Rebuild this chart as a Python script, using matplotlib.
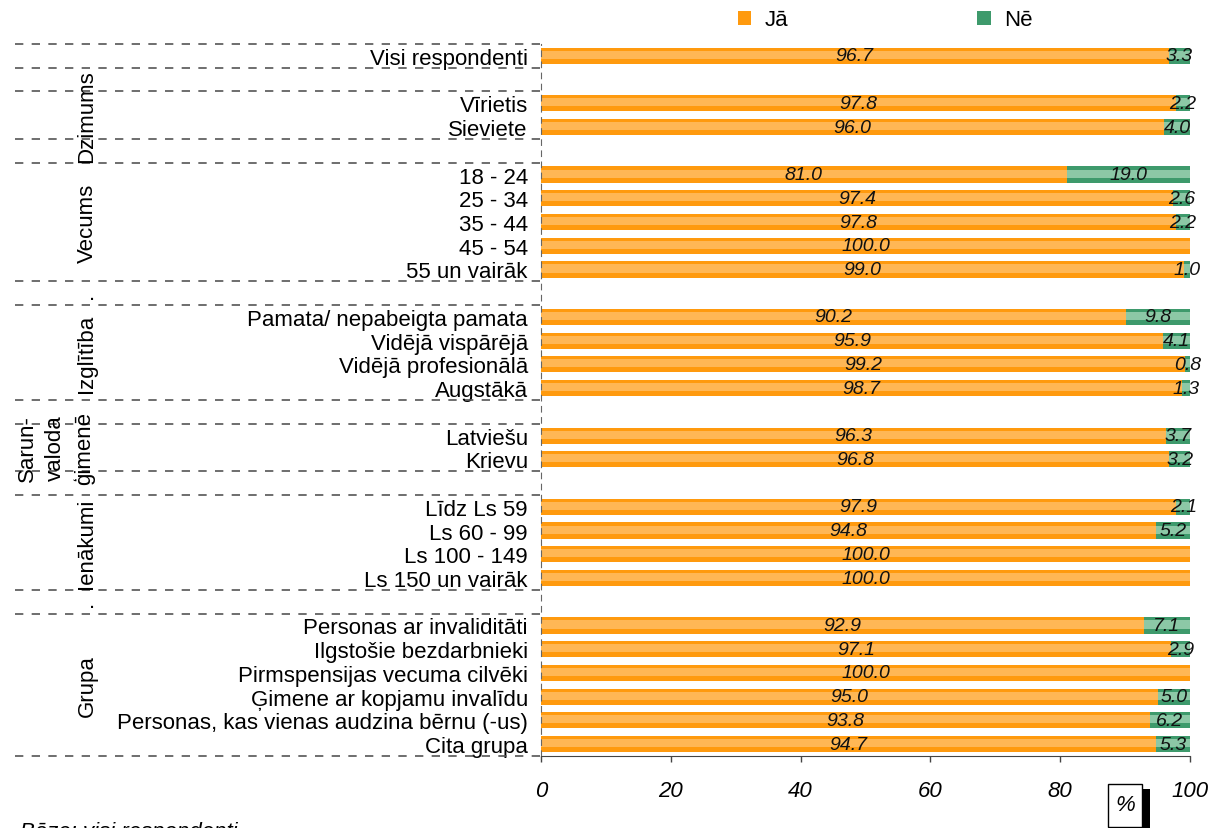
import matplotlib
matplotlib.use("Agg")
import matplotlib.pyplot as plt
from matplotlib.patches import Patch, Rectangle
from matplotlib.transforms import blended_transform_factory

plt.rcParams['font.family'] = ['Liberation Sans', 'DejaVu Sans']

# data
labels = ["Visi respondenti",
          "Vīrietis", "Sieviete",
          "18 - 24", "25 - 34", "35 - 44", "45 - 54", "55 un vairāk",
          "Pamata/ nepabeigta pamata", "Vidējā vispārējā", "Vidējā profesionālā", "Augstākā",
          "Latviešu", "Krievu",
          "Līdz Ls 59", "Ls 60 - 99", "Ls 100 - 149", "Ls 150 un vairāk",
          "Personas ar invaliditāti", "Ilgstošie bezdarbnieki", "Pirmspensijas vecuma cilvēki",
          "Ģimene ar kopjamu invalīdu", "Personas, kas vienas audzina bērnu (-us)", "Cita grupa"]
ja = [96.7, 97.8, 96.0, 81.0, 97.4, 97.8, 100.0, 99.0, 90.2, 95.9, 99.2, 98.7,
      96.3, 96.8, 97.9, 94.8, 100.0, 100.0, 92.9, 97.1, 100.0, 95.0, 93.8, 94.7]
ne = [3.3, 2.2, 4.0, 19.0, 2.6, 2.2, 0.0, 1.0, 9.8, 4.1, 0.8, 1.3,
      3.7, 3.2, 2.1, 5.2, 0.0, 0.0, 7.1, 2.9, 0.0, 5.0, 6.2, 5.3]
group_names = ["", "Dzimums", "Vecums", "Izglītība", "Sarun-\nvaloda\nģimenē", "Ienākumi", "Grupa"]
group_sizes = [1, 2, 5, 4, 2, 4, 6]

ORANGE = '#FF9A0E'
ORANGE_L = '#FFB755'
GREEN = '#3E9A6C'
GREEN_L = '#8CC8A6'

# row positions: one blank slot between groups
pos = []
group_span = []
slot = 0
for n in group_sizes:
    group_span.append((slot, slot + n - 1))
    pos += list(range(slot, slot + n))
    slot += n + 1
last = slot - 2

W, H = 1208, 829
fig = plt.figure(figsize=(W / 100, H / 100), dpi=100)
ax = fig.add_axes([541 / W, 1 - 757 / H, (1190 - 541) / W, (757 - 45) / H])

bh = 0.68
ax.barh(pos, ja, height=bh, color=ORANGE, linewidth=0)
ax.barh([p - 0.04 for p in pos], ja, height=bh * 0.5, color=ORANGE_L, linewidth=0)
ax.barh(pos, ne, left=ja, height=bh, color=GREEN, linewidth=0)
ax.barh([p - 0.04 for p in pos], ne, left=ja, height=bh * 0.5, color=GREEN_L, linewidth=0)

for p, a, b in zip(pos, ja, ne):
    ax.text(a / 2, p, f"{a:.1f}", ha='center', va='center', fontsize=14, style='italic', color='#111111')
    if b > 0:
        ax.text(a + b / 2, p, f"{b:.1f}", ha='center', va='center', fontsize=14, style='italic', color='#111111')

ax.set_xlim(0, 100)
ax.set_ylim(last + 0.5, -0.5)
ax.set_xticks(range(0, 101, 20))
ax.set_yticks(pos, labels)
ax.tick_params(axis='y', length=0, pad=9.5, labelsize=16)
ax.tick_params(axis='x', direction='out', length=4.5, width=1, color='#444444', pad=12.5, labelsize=16)
for t in ax.get_xticklabels():
    t.set_fontstyle('italic')

for s in ['top', 'right']:
    ax.spines[s].set_visible(False)
ax.spines['bottom'].set_color('#444444')
ax.spines['left'].set_color('#666666')
ax.spines['left'].set_linestyle((0, (5, 5)))

# dashed separators in the label area
tr = blended_transform_factory(fig.transFigure, ax.transData)
seps = [-0.5]
for a, b in group_span:
    seps += [a - 0.5, b + 0.5]
seps = sorted(set(seps))
for y in seps:
    ax.plot([15 / W, 541 / W], [y, y], transform=tr, clip_on=False,
            color='#555555', lw=1.2, linestyle=(0, (5, 5)))

# group labels
for name, (a, b) in zip(group_names, group_span):
    if not name:
        continue
    x = 56 / W if '\n' in name else 87 / W
    ax.text(x, (a + b) / 2, name, transform=tr, rotation=90, ha='center', va='center',
            fontsize=16, linespacing=1.45, multialignment='center')
for a, b in [group_span[3], group_span[6]]:
    ax.text(92 / W, a - 1, ".", transform=tr, ha='center', va='center', fontsize=16)

# legend
handles = [Patch(facecolor=ORANGE, label='Jā'), Patch(facecolor=GREEN, label='Nē')]
fig.legend(handles=handles, loc='center left', bbox_to_anchor=(738 / W, 1 - 21 / H), ncol=2,
           frameon=False, fontsize=16, handlelength=0.6, handleheight=0.6,
           handletextpad=0.6, columnspacing=8.5, borderaxespad=0, borderpad=0)

# % box
fig.patches.append(Rectangle((1142 / W, 0), 8 / W, (829 - 790) / H, transform=fig.transFigure,
                             facecolor='black', edgecolor='none'))
fig.patches.append(Rectangle((1108 / W, 1 - 828 / H), 34 / W, 43 / H, transform=fig.transFigure,
                             facecolor='white', edgecolor='black', lw=1))
fig.text(1125 / W, 1 - 806 / H, "%", ha='center', va='center', fontsize=16, style='italic')

fig.text(20 / W, 1 - 838 / H, "Bāze: visi respondenti", ha='left', va='baseline',
         fontsize=16, style='italic')

fig.savefig("out.png", dpi=100)
